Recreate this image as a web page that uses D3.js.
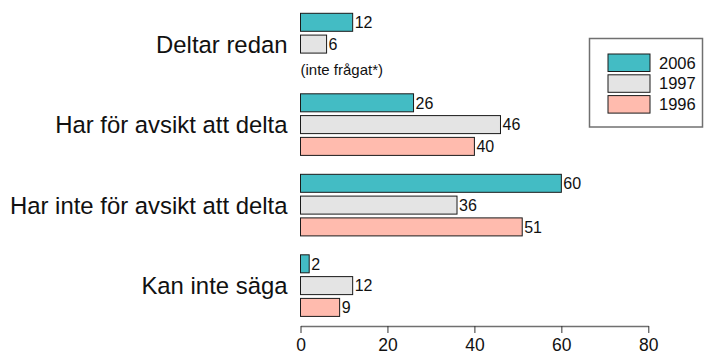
<!DOCTYPE html>
<html>
<head>
<meta charset="utf-8">
<script src="https://cdn.jsdelivr.net/npm/d3@7"></script>
<style>
  html, body { margin: 0; padding: 0; background: #fff; }
  svg { display: block; font-family: "Liberation Sans", Arial, sans-serif; }
</style>
</head>
<body>
<svg id="chart" width="705" height="356"></svg>
<script>
const categories = ["Deltar redan", "Har för avsikt att delta", "Har inte för avsikt att delta", "Kan inte säga"];
const seriesNames = ["2006", "1997", "1996"];
const values2006 = [12, 26, 60, 2];
const values1997 = [6, 46, 36, 12];
const values1996 = [null, 40, 51, 9];
const tickValues = [0, 20, 40, 60, 80];
const colors = ["#43bcc4", "#e4e4e4", "#ffbbae"];
const notAskedNote = "(inte frågat*)";

const seriesValues = [values2006, values1997, values1996];

const svg = d3.select("#chart");

const x = d3.scaleLinear().domain([0, 80]).range([300.5, 648.3]);

const y0 = d3.scaleBand()
  .domain(categories)
  .range([13.3, 316.4])
  .paddingInner(0.235)
  .paddingOuter(0);

const y1 = d3.scaleBand()
  .domain(seriesNames)
  .range([0, y0.bandwidth()])
  .paddingInner(0.174)
  .paddingOuter(0);

// grouped bars
const groups = svg.append("g").selectAll("g")
  .data(categories)
  .join("g")
  .attr("transform", d => `translate(0,${y0(d)})`);

groups.each(function(cat, ci) {
  const g = d3.select(this);
  seriesNames.forEach((s, si) => {
    const v = seriesValues[si][ci];
    const yy = y1(s);
    if (v === null) {
      g.append("text")
        .attr("x", x(0))
        .attr("y", yy + y1.bandwidth() / 2)
        .attr("dy", "0.6em")
        .attr("font-size", 15)
        .attr("fill", "#111")
        .text(notAskedNote);
      return;
    }
    g.append("rect")
      .attr("x", x(0))
      .attr("y", yy)
      .attr("width", x(v) - x(0))
      .attr("height", y1.bandwidth())
      .attr("fill", colors[si])
      .attr("stroke", "#1a1a1a")
      .attr("stroke-width", 1);
    g.append("text")
      .attr("x", x(v) + 2)
      .attr("y", yy + y1.bandwidth() / 2)
      .attr("dy", "0.36em")
      .attr("font-size", 16)
      .attr("fill", "#111")
      .text(v);
  });
  g.append("text")
    .attr("x", 287.5)
    .attr("y", y0.bandwidth() / 2)
    .attr("dy", "0.36em")
    .attr("text-anchor", "end")
    .attr("font-size", 23.9)
    .attr("fill", "#111")
    .text(cat);
});

// bottom axis
const axis = svg.append("g")
  .attr("transform", "translate(0,326)")
  .call(d3.axisBottom(x).tickValues(tickValues).tickSize(7).tickSizeOuter(0).tickPadding(6));
axis.select(".domain").attr("stroke", "#707070").attr("stroke-width", 1.5);
axis.selectAll(".tick line").attr("stroke", "#333").attr("stroke-width", 1);
axis.selectAll(".tick text")
  .attr("font-size", 17.5)
  .attr("font-family", "'Liberation Sans', Arial, sans-serif")
  .attr("fill", "#111");

// legend
const legend = svg.append("g");
legend.append("rect")
  .attr("x", 589.5).attr("y", 38.5)
  .attr("width", 113).attr("height", 88.5)
  .attr("fill", "none")
  .attr("stroke", "#707070")
  .attr("stroke-width", 1.5);
seriesNames.forEach((s, i) => {
  const ly = 54 + i * 20.8;
  legend.append("rect")
    .attr("x", 608).attr("y", ly)
    .attr("width", 42).attr("height", 17.5)
    .attr("fill", colors[i])
    .attr("stroke", "#1a1a1a")
    .attr("stroke-width", 1);
  legend.append("text")
    .attr("x", 659).attr("y", ly + 8.75)
    .attr("dy", "0.36em")
    .attr("font-size", 16.5)
    .attr("fill", "#111")
    .text(s);
});
</script>
</body>
</html>
